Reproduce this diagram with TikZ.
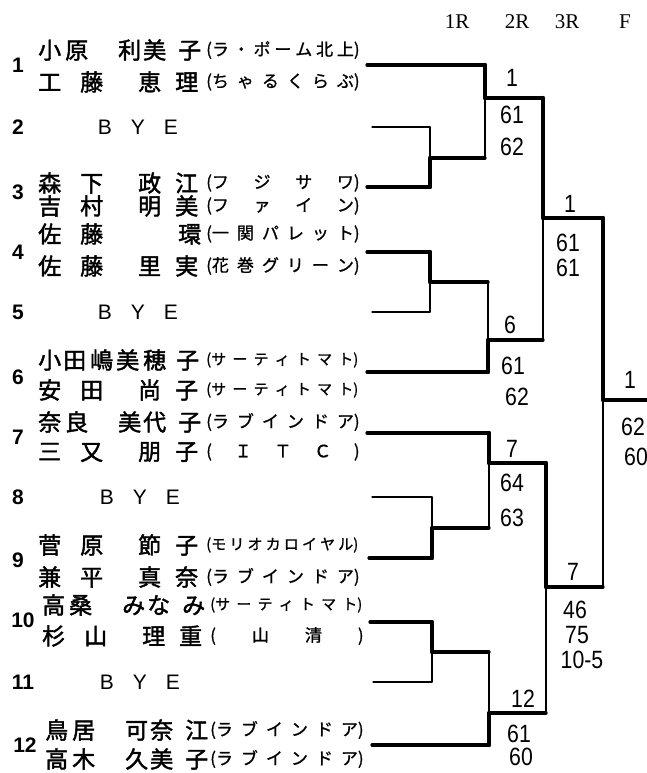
\documentclass[tikz,border=0pt]{standalone}
\usepackage{fontspec}
\setmainfont{Liberation Sans}
\newfontfamily\jpname{Noto Sans CJK JP}[FakeBold=1.8]
\newfontfamily\jpclub{Noto Sans CJK JP}[FakeBold=1.0]
\newfontfamily\roundfont{Liberation Serif}
\newfontfamily\handfont{Liberation Sans}[FakeStretch=0.85]

% one character at a fixed offset, names laid out in cells
\newcommand\putch[2]{\rlap{\hspace*{#1pt}#2}}
\newcommand\nmA[4]{\putch{0}{#1}\putch{42}{#2}\putch{100}{#3}\putch{137}{#4}\hspace*{160pt}}
\newcommand\nmB[5]{\putch{0}{#1}\putch{27}{#2}\putch{80}{#3}\putch{105}{#4}\putch{140}{#5}\hspace*{160pt}}
\newcommand\nmC[3]{\putch{0}{#1}\putch{42}{#2}\putch{140}{#3}\hspace*{160pt}}
\newcommand\nmD[6]{\putch{0}{#1}\putch{25}{#2}\putch{52}{#3}\putch{78}{#4}\putch{105}{#5}\putch{138}{#6}\hspace*{160pt}}
\newcommand\club[2][17pt]{{\fontsize{#1}{#1}\selectfont(\makebox[142pt][s]{#2})}}
% horizontal then vertical part of one bracket leg
\newcommand\leg[4]{\draw[#3] (#1) -- (#1 -| #2); \draw[#4] (#1 -| #2) -- (#2);}

\tikzset{
  player/.style={anchor=west, inner sep=0pt, font=\jpname\fontsize{23}{23}\selectfont},
  team/.style={anchor=west, inner sep=0pt, font=\jpclub\fontsize{17}{17}\selectfont},
  seed/.style={inner sep=0pt, font=\bfseries\fontsize{21}{21}\selectfont},
  byetext/.style={inner sep=0pt, font=\fontsize{21}{21}\selectfont},
  roundlab/.style={inner sep=0pt, font=\roundfont\fontsize{21}{21}\selectfont},
  score/.style={inner sep=0pt, font=\handfont\fontsize{25}{25}\selectfont},
  win/.style={line width=3.2pt, line cap=round},
  winv/.style={line width=4.4pt, line cap=round},
  lose/.style={line width=1.3pt, line cap=round},
}

\begin{document}
\begin{tikzpicture}[x=1pt, y=-1pt]
  \useasboundingbox (0,0) rectangle (647,773);

  % round heads
  \node[roundlab] (rd1) at (457,22) {1R};
  \node[roundlab] (rd2) at (517,22) {2R};
  \node[roundlab] (rd3) at (567,22) {3R};
  \node[roundlab] (rdf) at (625,22) {F};

  % draw numbers
  \node[seed] (num1) at (18,65) {1};
  \node[seed] (num2) at (18,127) {2};
  \node[seed] (num3) at (18,192) {3};
  \node[seed] (num4) at (18,252) {4};
  \node[seed] (num5) at (18,312) {5};
  \node[seed] (num6) at (18,377) {6};
  \node[seed] (num7) at (18,437) {7};
  \node[seed] (num8) at (18,497) {8};
  \node[seed] (num9) at (18,560) {9};
  \node[seed] (num10) at (23,620) {10};
  \node[seed] (num11) at (23,682) {11};
  \node[seed] (num12) at (25,745) {12};

  % byes
  \node[byetext] (bye2) at (138,127) {\makebox[33pt]{B}\makebox[33pt]{Y}\makebox[33pt]{E}};
  \node[byetext] (bye5) at (138,312) {\makebox[33pt]{B}\makebox[33pt]{Y}\makebox[33pt]{E}};
  \node[byetext] (bye8) at (140,497) {\makebox[33pt]{B}\makebox[33pt]{Y}\makebox[33pt]{E}};
  \node[byetext] (bye11) at (140,682) {\makebox[33pt]{B}\makebox[33pt]{Y}\makebox[33pt]{E}};

  % players
  \node[player] (name1a) at (38,50) {\nmB{小}{原}{利}{美}{子}};
  \node[player] (name1b) at (38,82) {\nmA{工}{藤}{恵}{理}};
  \node[player] (name3a) at (38,183) {\nmA{森}{下}{政}{江}};
  \node[player] (name3b) at (38,206) {\nmA{吉}{村}{明}{美}};
  \node[player] (name4a) at (38,234) {\nmC{佐}{藤}{環}};
  \node[player] (name4b) at (38,266) {\nmA{佐}{藤}{里}{実}};
  \node[player] (name6a) at (38,360) {\nmD{小}{田}{嶋}{美}{穂}{子}};
  \node[player] (name6b) at (38,390) {\nmA{安}{田}{尚}{子}};
  \node[player] (name7a) at (38,422) {\nmB{奈}{良}{美}{代}{子}};
  \node[player] (name7b) at (38,452) {\nmA{三}{又}{朋}{子}};
  \node[player] (name9a) at (38,545) {\nmA{菅}{原}{節}{子}};
  \node[player] (name9b) at (38,577) {\nmA{兼}{平}{真}{奈}};
  \node[player] (name10a) at (42,605) {\nmB{高}{桑}{み}{な}{み}};
  \node[player] (name10b) at (42,636) {\nmA{杉}{山}{理}{重}};
  \node[player] (name12a) at (45,730) {\nmB{鳥}{居}{可}{奈}{江}};
  \node[player] (name12b) at (45,759) {\nmB{高}{木}{久}{美}{子}};

  % clubs
  \node[team] (club1a) at (206,50) {\club{ラ ・ ポ ー ム 北 上}};
  \node[team] (club1b) at (206,82) {\club{ち ゃ る く ら ぶ}};
  \node[team] (club3a) at (206,183) {\club{フ ジ サ ワ}};
  \node[team] (club3b) at (206,206) {\club{フ ァ イ ン}};
  \node[team] (club4a) at (206,234) {\club{一 関 パ レ ッ ト}};
  \node[team] (club4b) at (206,266) {\club{花 巻 グ リ ー ン}};
  \node[team] (club6a) at (206,360) {\club[15pt]{サ ー テ ィ ト マ ト}};
  \node[team] (club6b) at (206,390) {\club[15pt]{サ ー テ ィ ト マ ト}};
  \node[team] (club7a) at (206,422) {\club{ラ ブ イ ン ド ア}};
  \node[team] (club7b) at (206,452) {\club{~Ｉ Ｔ Ｃ~}};
  \node[team] (club9a) at (206,545) {\club[15pt]{モ リ オ カ ロ イ ヤ ル}};
  \node[team] (club9b) at (206,577) {\club{ラ ブ イ ン ド ア}};
  \node[team] (club10a) at (210,605) {\club[15pt]{サ ー テ ィ ト マ ト}};
  \node[team] (club10b) at (210,636) {\club{~山 清~}};
  \node[team] (club12a) at (210,730) {\club{ラ ブ イ ン ド ア}};
  \node[team] (club12b) at (210,759) {\club{ラ ブ イ ン ド ア}};

  % line starts
  \coordinate (p1) at (367,65);
  \coordinate (p2) at (372,127);
  \coordinate (p3) at (367,187);
  \coordinate (p4) at (367,252);
  \coordinate (p5) at (372,312);
  \coordinate (p6) at (367,372);
  \coordinate (p7) at (367,433);
  \coordinate (p8) at (372,497);
  \coordinate (p9) at (369,558);
  \coordinate (p10) at (370,622);
  \coordinate (p11) at (373,682);
  \coordinate (p12) at (372,745);
  % winners of each match
  \coordinate (r1) at (430,158);
  \coordinate (r2) at (430,282);
  \coordinate (r3) at (432,528);
  \coordinate (r4) at (432,652);
  \coordinate (s1) at (485,98);
  \coordinate (s2) at (488,340);
  \coordinate (s3) at (489,463);
  \coordinate (s4) at (489,713);
  \coordinate (t1) at (543,218);
  \coordinate (t2) at (546,587);
  \coordinate (fin) at (603,400);
  \coordinate (champ) at (650,400);

  % top half
  \leg{p1}{s1}{win}{winv}
  \leg{p2}{r1}{lose}{lose}
  \leg{p3}{r1}{win}{winv}
  \leg{r1}{s1}{win}{lose}
  \leg{s1}{t1}{win}{winv}
  \leg{p4}{r2}{win}{winv}
  \leg{p5}{r2}{lose}{lose}
  \leg{r2}{s2}{win}{lose}
  \leg{p6}{s2}{win}{winv}
  \leg{s2}{t1}{win}{lose}
  \leg{t1}{fin}{win}{winv}
  % bottom half
  \leg{p7}{s3}{win}{winv}
  \leg{p8}{r3}{lose}{lose}
  \leg{p9}{r3}{win}{winv}
  \leg{r3}{s3}{win}{lose}
  \leg{s3}{t2}{win}{winv}
  \leg{p10}{r4}{win}{winv}
  \leg{p11}{r4}{lose}{lose}
  \leg{r4}{s4}{win}{lose}
  \leg{p12}{s4}{win}{winv}
  \leg{s4}{t2}{win}{lose}
  \leg{t2}{fin}{win}{lose}
  \draw[win] (fin) -- (champ);

  % scores
  \node[score] (lbs1) at (512,78) {1};
  \node[score] (lbs1a) at (512,115) {61};
  \node[score] (lbs1b) at (512,147) {62};
  \node[score] (lbs2) at (510,325) {6};
  \node[score] (lbs2a) at (513,366) {61};
  \node[score] (lbs2b) at (517,397) {62};
  \node[score] (lbs3) at (512,449) {7};
  \node[score] (lbs3a) at (512,483) {64};
  \node[score] (lbs3b) at (512,518) {63};
  \node[score] (lbs4) at (523,699) {12};
  \node[score] (lbs4a) at (519,734) {61};
  \node[score] (lbs4b) at (521,757) {60};
  \node[score] (lbt1) at (570,204) {1};
  \node[score] (lbt1a) at (568,243) {61};
  \node[score] (lbt1b) at (568,268) {61};
  \node[score] (lbt2) at (573,572) {7};
  \node[score] (lbt2a) at (575,610) {46};
  \node[score] (lbt2b) at (577,635) {75};
  \node[score] (lbt2c) at (582,660) {10-5};
  \node[score] (lbf) at (630,380) {1};
  \node[score] (lbfa) at (633,427) {62};
  \node[score] (lbfb) at (636,457) {60};
\end{tikzpicture}
\end{document}
